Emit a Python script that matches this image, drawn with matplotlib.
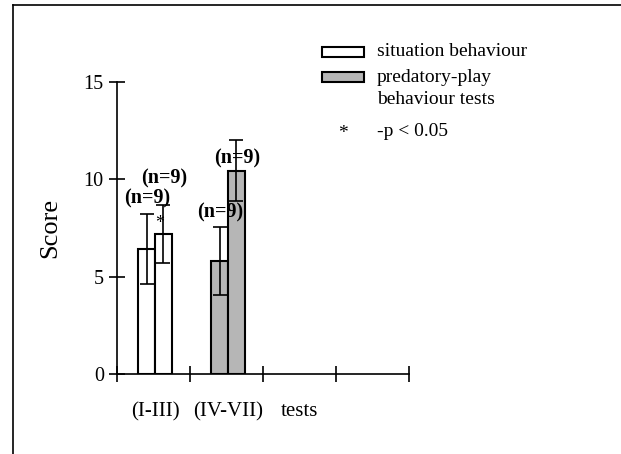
import matplotlib.pyplot as plt
from matplotlib.patches import Rectangle
from matplotlib.lines import Line2D

# данные
groups = ['(I-III)', '(IV-VII)', 'tests']
white_means = [6.4, 7.2]
white_err = [1.8, 1.5]
grey_means = [5.8, 10.45]
grey_err = [1.75, 1.55]
n_labels = ['(n=9)', '(n=9)', '(n=9)', '(n=9)']
n_y = [9.0, 10.05, 8.3, 11.05]

plt.rcParams['font.family'] = 'Liberation Serif'

fig = plt.figure(figsize=(6.21, 4.54), dpi=100)
ax = fig.add_axes([117 / 621, 80 / 454, 292 / 621, 292 / 454])

w = 0.23
xw = [0.52 - w / 2, 0.52 + w / 2]
xg = [1.52 - w / 2, 1.52 + w / 2]

ax.bar(xw, white_means, width=w, color='white', edgecolor='black', linewidth=1.5,
       yerr=white_err, error_kw=dict(ecolor='black', elinewidth=1.2, capsize=5, capthick=1.2))
ax.bar(xg, grey_means, width=w, color='#b6b6b6', edgecolor='black', linewidth=1.5,
       yerr=grey_err, error_kw=dict(ecolor='black', elinewidth=1.2, capsize=5, capthick=1.2))

for xi, lab, yi in zip(xw + xg, n_labels, n_y):
    ax.text(xi + 0.01, yi, lab, ha='center', va='center', fontsize=14.5, fontweight='bold')
# звездочка значимости
ax.text(0.58, 7.75, '*', ha='center', va='center', fontsize=13)

ax.set_xlim(0, 4)
ax.set_ylim(0, 15)
ax.set_yticks([0, 5, 10, 15])
ax.set_xticks([0, 1, 2, 3, 4])
ax.set_xticklabels([])
ax.set_xticks([0.52, 1.52, 2.5], minor=True)
ax.set_xticklabels(groups, minor=True)
ax.tick_params(axis='x', which='minor', length=0, pad=20, labelsize=15)
ax.tick_params(axis='both', which='major', direction='inout', length=11, width=1.2, labelsize=14.5)
ax.tick_params(axis='y', pad=4)
for s in ['top', 'right']:
    ax.spines[s].set_visible(False)
for s in ['left', 'bottom']:
    ax.spines[s].set_linewidth(1.2)
ax.set_ylabel('Score', fontsize=19, labelpad=16)

# легенда вручную, координаты в пикселях фигуры
def fx(px):
    return px / 621

def fy(py):
    return 1 - py / 454

fig.patches.append(Rectangle((fx(322), fy(57)), fx(42), 10 / 454, facecolor='white',
                             edgecolor='black', linewidth=1.5, transform=fig.transFigure))
fig.patches.append(Rectangle((fx(322), fy(82)), fx(42), 10 / 454, facecolor='#b6b6b6',
                             edgecolor='black', linewidth=1.5, transform=fig.transFigure))
fig.text(fx(377), fy(52), 'situation behaviour', fontsize=14, va='center')
fig.text(fx(377), fy(77), 'predatory-play', fontsize=14, va='center')
fig.text(fx(377), fy(100), 'behaviour tests', fontsize=14, va='center')
fig.text(fx(343), fy(133), '*', fontsize=14, va='center', ha='center')
fig.text(fx(377), fy(131), '-p < 0.05', fontsize=14, va='center')

# рамка
fig.lines.append(Line2D([fx(13), fx(13)], [0, fy(5)], color='black', linewidth=1.2,
                        transform=fig.transFigure))
fig.lines.append(Line2D([fx(13), 1], [fy(5), fy(5)], color='black', linewidth=1.2,
                        transform=fig.transFigure))

fig.savefig('out.png', dpi=100)
